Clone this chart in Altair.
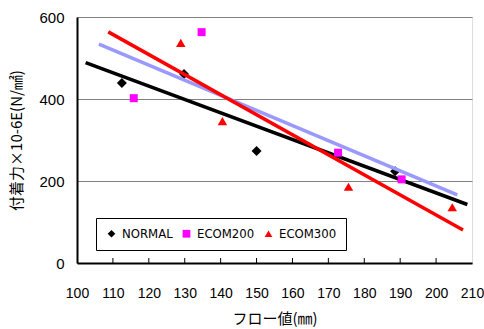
import altair as alt
import pandas as pd

# ---- data ----
series_names = ["NORMAL", "ECOM200", "ECOM300"]
normal_x = [112.5, 129.8, 150.0, 188.6]
normal_y = [439, 461, 273, 224]
ecom200_x = [115.8, 134.7, 172.7, 190.4]
ecom200_y = [402, 563, 269, 204]
ecom300_x = [128.9, 140.5, 175.6, 204.5]
ecom300_y = [537, 346, 186, 136]
trend_start = [102.4, 106.1, 108.7]
trend_end = [208.7, 205.9, 207.5]
x_ticks = [100, 110, 120, 130, 140, 150, 160, 170, 180, 190, 200, 210]
inner_ticks = [110, 120, 130, 140, 150, 160, 170, 180, 190, 200]
y_ticks = [0, 200, 400, 600]

point_colors = ["#000000", "#FF00FF", "#FF0000"]
line_colors = ["#000000", "#9999FF", "#FF0000"]
shapes = ["diamond", "square", "triangle-up"]
sizes = [100, 64, 90]

xs = [normal_x, ecom200_x, ecom300_x]
ys = [normal_y, ecom200_y, ecom300_y]
rows = []
for name, sx, sy in zip(series_names, xs, ys):
    for a, b in zip(sx, sy):
        rows.append({"series": name, "x": a, "y": b})
df = pd.DataFrame(rows)
ticks_df = pd.DataFrame({"t": inner_ticks})

W, H = 395, 246
LATIN = "Liberation Sans"
CJK = "Noto Sans CJK JP"

x_scale = alt.Scale(domain=[100, 210], nice=False, zero=False)
y_scale = alt.Scale(domain=[0, 600], nice=False)

x_axis = alt.Axis(
    values=x_ticks, grid=False, ticks=False, labelPadding=23, labelFlush=False,
    labelOverlap=False, labelFont=LATIN, labelFontSize=14, labelColor="#000000",
    domainColor="#000000", domainWidth=2,
    title="フロー値(㎜)", titleFont=CJK, titleFontSize=15, titleFontWeight="normal",
    titleColor="#000000", titleX=W / 2, titleY=55, titleBaseline="middle", titleAlign="center",
)
y_axis = alt.Axis(
    values=y_ticks, grid=True, gridColor="#808080", gridWidth=1, ticks=False,
    labelPadding=13, labelFont=LATIN, labelFontSize=15, labelColor="#000000",
    labelFlush=False, domainColor="#000000", domainWidth=2,
    title="付着力×10-6E(N/㎟)", titleFont=CJK, titleFontSize=15, titleFontWeight="normal",
    titleColor="#000000", titleX=-61, titleY=H / 2, titleAngle=-90,
    titleBaseline="middle", titleAlign="center",
)

color_scale = alt.Scale(domain=series_names, range=point_colors)
shape_scale = alt.Scale(domain=series_names, range=shapes)
legend = alt.Legend(
    title=None, orient="none", legendX=19, legendY=201, direction="horizontal",
    strokeColor="#000000", fillColor="#FFFFFF", padding=9,
    labelFont="DejaVu Sans Condensed", labelFontSize=13, labelColor="#000000",
    symbolSize=60, symbolStrokeWidth=0, columnPadding=7, labelOffset=4,
)

base = alt.Chart(df)
layers = []
tick_layer = alt.Chart(ticks_df).mark_rule(color="#000000", strokeWidth=1).encode(
    x=alt.X("t:Q", scale=x_scale, axis=x_axis),
    y=alt.value(H - 5), y2=alt.value(H),
)
layers.append(tick_layer)
for i, name in enumerate(series_names):
    pts = base.transform_filter(alt.datum.series == name).mark_point(
        filled=True, size=sizes[i], opacity=1
    ).encode(
        x=alt.X("x:Q", scale=x_scale, axis=x_axis),
        y=alt.Y("y:Q", scale=y_scale, axis=y_axis),
        color=alt.Color("series:N", scale=color_scale, legend=legend),
        shape=alt.Shape("series:N", scale=shape_scale, legend=legend),
    )
    line = base.transform_filter(alt.datum.series == name).transform_regression(
        "x", "y", extent=[trend_start[i], trend_end[i]]
    ).mark_line(color=line_colors[i], strokeWidth=3.5).encode(
        x=alt.X("x:Q", scale=x_scale, axis=x_axis),
        y=alt.Y("y:Q", scale=y_scale, axis=y_axis),
    )
    layers += [pts, line]

chart = alt.layer(*layers).properties(
    width=W, height=H,
    autosize=alt.AutoSizeParams(type="none"),
    padding={"left": 77, "top": 17, "right": 12, "bottom": 66},
).configure_view(stroke="#808080", strokeWidth=2).configure(background="#FFFFFF")

chart.save("out.html", embed_options={"renderer": "svg", "actions": False})
